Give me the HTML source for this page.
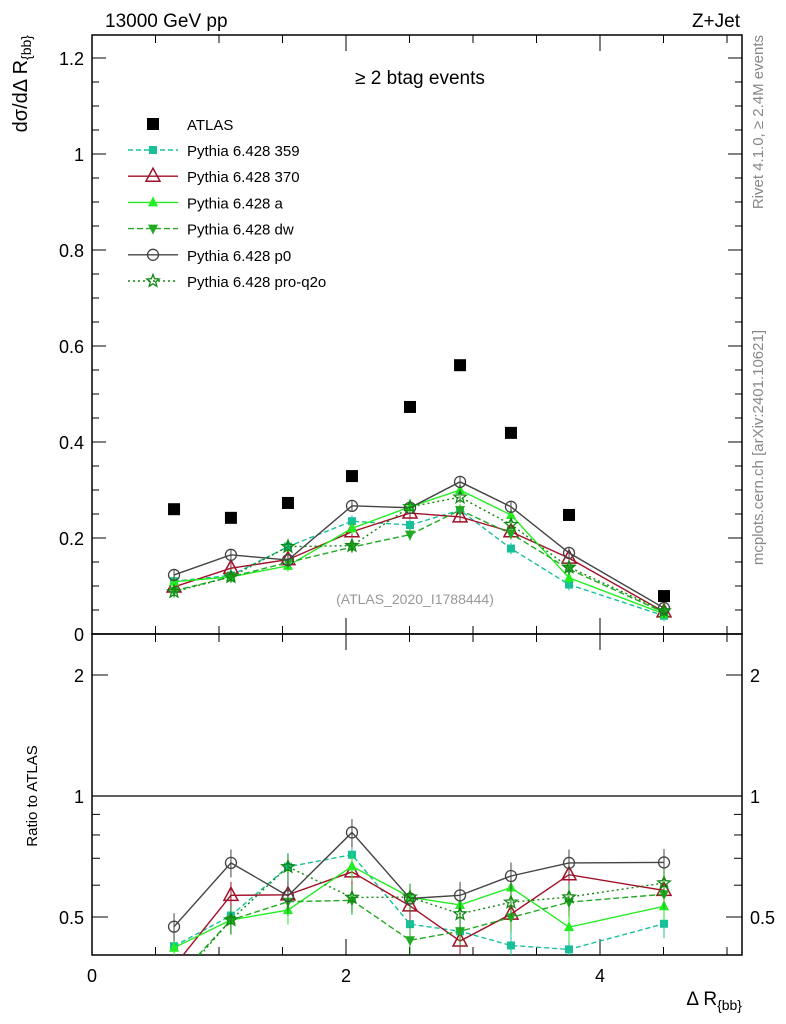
<!DOCTYPE html>
<html><head><meta charset="utf-8"><style>
body{margin:0;background:#fff;}
svg{display:block;font-family:"Liberation Sans",Arial,sans-serif;}
</style></head><body>
<svg id="c" width="786" height="1024"></svg>
<script>
const xs=[0.646,1.094,1.543,2.047,2.504,2.898,3.299,3.756,4.504];
const atlas=[0.260,0.242,0.273,0.329,0.473,0.560,0.419,0.248,0.079];
const s359=[0.11,0.122,0.182,0.235,0.227,0.258,0.178,0.103,0.038];
const s370=[0.098,0.137,0.155,0.213,0.252,0.244,0.213,0.158,0.046];
const sA=[0.109,0.119,0.142,0.22,0.265,0.30,0.248,0.117,0.042];
const sDW=[0.09,0.119,0.149,0.181,0.207,0.258,0.209,0.135,0.045];
const sP0=[0.123,0.165,0.154,0.267,0.263,0.317,0.265,0.169,0.054];
const sQ2O=[0.088,0.119,0.182,0.184,0.265,0.285,0.228,0.139,0.048];
const yTicks=[0,0.2,0.4,0.6,0.8,1,1.2];
const yTickLabels=["0","0.2","0.4","0.6","0.8","1","1.2"];
const xTicks=[0,2,4];
const rTicks=[0.5,1,2];

const L=92,R=742,T=35,MB=634,RB=955;
const X=v=>L+v*127;
const Y=v=>MB-v*480;
const RY=v=>796-Math.log10(v)*402;
const NS="http://www.w3.org/2000/svg";
const svg=document.getElementById('c');
function mk(t,a,p){const e=document.createElementNS(NS,t);for(const k in a)e.setAttribute(k,a[k]);(p||svg).appendChild(e);return e;}
function txt(x,y,s,a,p){const e=mk('text',Object.assign({x:x,y:y},a||{}),p);e.textContent=s;return e;}

const defs=mk('defs',{});
const c1=mk('clipPath',{id:'cm'},defs);mk('rect',{x:L,y:T,width:R-L,height:MB-T},c1);
const c2=mk('clipPath',{id:'cr'},defs);mk('rect',{x:L,y:MB,width:R-L,height:RB-MB},c2);

let f=mk('rect',{x:L,y:T,width:R-L,height:MB-T,fill:'none',stroke:'#000','stroke-width':1.5});

f=mk('rect',{x:L,y:MB,width:R-L,height:RB-MB,fill:'none',stroke:'#000','stroke-width':1.5});


for(let v=0;v<=1.25;v+=0.05){const y=Y(v);const maj=Math.abs(v/0.2-Math.round(v/0.2))<1e-6;const len=maj?14:7;
mk('line',{x1:L,x2:L+len,y1:y,y2:y,stroke:'#000'});mk('line',{x1:R,x2:R-len,y1:y,y2:y,stroke:'#000'});}
yTicks.forEach((v,i)=>{const t=txt(L-8,Y(v)+7,yTickLabels[i],{'text-anchor':'end','font-size':18});
});
for(let v=0;v<=5.1;v+=0.5){const x=X(v);const maj=Math.abs(v%2)<1e-6;const len=maj?16:8;
[[MB,-1],[T,1],[RB,-1]].forEach(([y0,d])=>mk('line',{x1:x,x2:x,y1:y0,y2:y0+d*len,stroke:'#000'}));
mk('line',{x1:x,x2:x,y1:MB,y2:MB+len,stroke:'#000'});}
xTicks.forEach(v=>{const t=txt(X(v),982,String(v),{'text-anchor':'middle','font-size':18});
});
[0.5,0.6,0.7,0.8,0.9,1,2].forEach(v=>{const y=RY(v);const maj=rTicks.includes(v);const len=maj?16:8;
mk('line',{x1:L,x2:L+len,y1:y,y2:y,stroke:'#000'});mk('line',{x1:R,x2:R-len,y1:y,y2:y,stroke:'#000'});});
rTicks.forEach(v=>{const y=RY(v)+7;
let t=txt(L-8,y,String(v),{'text-anchor':'end','font-size':18});
t=txt(R+8,y,String(v),{'font-size':18});});
mk('line',{x1:L,x2:R,y1:RY(1),y2:RY(1),stroke:'#000','stroke-width':1.2});

let t=txt(105,27,'13000 GeV pp',{'font-size':19});
t=txt(740,27,'Z+Jet',{'font-size':19,'text-anchor':'end'});
t=txt(420,84,'≥ 2 btag events',{'font-size':19,'text-anchor':'middle'});
t=txt(415,604,'(ATLAS_2020_I1788444)',{'font-size':14,'text-anchor':'middle',fill:'#999'});
t=txt(0,0,'',{'font-size':20,'text-anchor':'end',transform:'translate(27,35) rotate(-90)'});t.innerHTML='dσ/dΔ R<tspan font-size="14" dy="4">{bb}</tspan>';

t=txt(0,0,'Ratio to ATLAS',{'font-size':15,'text-anchor':'middle',transform:'translate(37,796) rotate(-90)'});
t=txt(742,1005,'',{'font-size':19,'text-anchor':'end'});t.innerHTML='Δ R<tspan font-size="14" dy="5">{bb}</tspan>';

t=txt(0,0,'Rivet 4.1.0, ≥ 2.4M events',{'font-size':15,fill:'#888','text-anchor':'end',transform:'translate(763,35) rotate(-90)'});
t=txt(0,0,'mcplots.cern.ch [arXiv:2401.10621]',{'font-size':15,fill:'#888','text-anchor':'end',transform:'translate(763,330) rotate(-90)'});

function marker(type,x,y,col,p){
 if(type==='sq')return mk('rect',{x:x-4,y:y-4,width:8,height:8,fill:col},p);
 if(type==='bigsq')return mk('rect',{x:x-6,y:y-6,width:12,height:12,fill:col},p);
 if(type==='otri')return mk('polygon',{points:`${x},${y-8} ${x-7},${y+5} ${x+7},${y+5}`,fill:'none',stroke:col,'stroke-width':1.5},p);
 if(type==='tri')return mk('polygon',{points:`${x},${y-6} ${x-5},${y+4} ${x+5},${y+4}`,fill:col},p);
 if(type==='dtri')return mk('polygon',{points:`${x},${y+6} ${x-5},${y-4} ${x+5},${y-4}`,fill:col},p);
 if(type==='circ')return mk('circle',{cx:x,cy:y,r:5.5,fill:'none',stroke:col,'stroke-width':1.3},p);
 if(type==='star'){let pts=[];for(let i=0;i<10;i++){const r=i%2?2.8:6.5,a=-Math.PI/2+i*Math.PI/5;pts.push((x+r*Math.cos(a)).toFixed(1)+','+(y+r*Math.sin(a)).toFixed(1));}
  return mk('polygon',{points:pts.join(' '),fill:'none',stroke:col,'stroke-width':1.3},p);}
}
const series=[
 {name:'Pythia 6.428 359',d:s359,col:'#18c09a',dash:'5,3',m:'sq',key:'359'},
 {name:'Pythia 6.428 370',d:s370,col:'#a01028',dash:'',m:'otri',key:'370'},
 {name:'Pythia 6.428 a',d:sA,col:'#22ee22',dash:'',m:'tri',key:'a'},
 {name:'Pythia 6.428 dw',d:sDW,col:'#22aa22',dash:'6,3',m:'dtri',key:'dw'},
 {name:'Pythia 6.428 p0',d:sP0,col:'#444',dash:'',m:'circ',key:'p0'},
 {name:'Pythia 6.428 pro-q2o',d:sQ2O,col:'#118811',dash:'2,3',m:'star',key:'pro-q2o'}];

const gm=mk('g',{'clip-path':'url(#cm)'});
const gr=mk('g',{'clip-path':'url(#cr)'});
series.forEach(s=>{
 const g=mk('g',{},gm);
 mk('polyline',{points:xs.map((x,i)=>X(x)+','+Y(s.d[i])).join(' '),fill:'none',stroke:s.col,'stroke-width':1.4,'stroke-dasharray':s.dash},g);
 xs.forEach((x,i)=>{const e=0.012;mk('line',{x1:X(x),x2:X(x),y1:Y(s.d[i]-e),y2:Y(s.d[i]+e),stroke:s.col},g);
  const m=marker(s.m,X(x),Y(s.d[i]),s.col,g);});
 const g2=mk('g',{},gr);
 const rv=s.d.map((v,i)=>v/atlas[i]);
 mk('polyline',{points:xs.map((x,i)=>X(x)+','+RY(rv[i])).join(' '),fill:'none',stroke:s.col,'stroke-width':1.4,'stroke-dasharray':s.dash},g2);
 xs.forEach((x,i)=>{const e=rv[i]*0.08;mk('line',{x1:X(x),x2:X(x),y1:RY(rv[i]-e),y2:RY(rv[i]+e),stroke:s.col},g2);
  const m=marker(s.m,X(x),RY(rv[i]),s.col,g2);});
});
const ga=mk('g',{},gm);
xs.forEach((x,i)=>{const m=marker('bigsq',X(x),Y(atlas[i]),'#000',ga);});

const lg=mk('g',{});
let ly=124;
let le=mk('g',{},lg);
marker('bigsq',153,ly,'#000',le);txt(187,ly+6,'ATLAS',{'font-size':15},le);
series.forEach((s,i)=>{const y=150+i*26.2;const g=mk('g',{},lg);
 mk('line',{x1:128,x2:178,y1:y,y2:y,stroke:s.col,'stroke-width':1.4,'stroke-dasharray':s.dash},g);
 marker(s.m,153,y,s.col,g);txt(187,y+6,s.name,{'font-size':15},g);});
</script>
</body></html>
